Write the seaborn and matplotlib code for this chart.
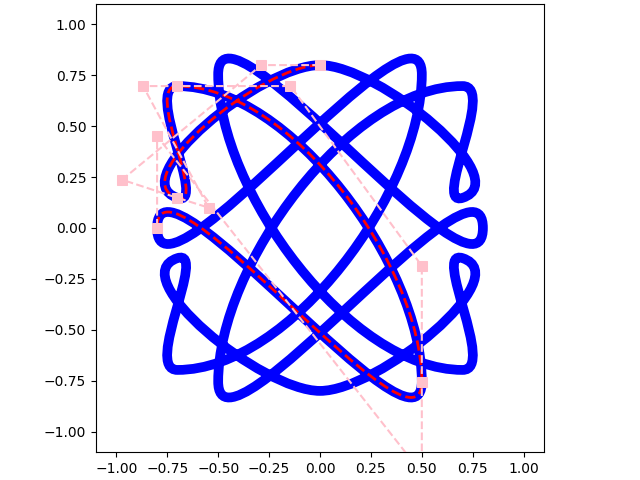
import numpy as np
import matplotlib
matplotlib.use("Agg")
import matplotlib.pyplot as plt
from matplotlib.path import Path
from matplotlib.patches import PathPatch
import seaborn as sns

# Control points of the quarter Bezier path (cubic segments)
ctrl_x = [0.0, -0.288, -0.972, -0.70, -0.547, -0.869, -0.70, -0.145, 0.50, 0.50, 0.50, -0.80, -0.80]
ctrl_y = [0.80, 0.80, 0.237, 0.148, 0.10, 0.697, 0.697, 0.697, -0.186, -0.754, -1.204, 0.451, 0.0]

tick_vals = [-1.0, -0.75, -0.5, -0.25, 0.0, 0.25, 0.5, 0.75, 1.0]

rx = np.array(ctrl_x)
ry = np.array(ctrl_y)

# Full curve: the quarter path and its mirror images
parts = [
    (rx, ry),
    (rx[::-1], -ry[::-1]),
    (-rx, -ry),
    (-rx[::-1], ry[::-1]),
]
full_x = [rx[0]]
full_y = [ry[0]]
for px, py in parts:
    full_x.extend(px[1:])
    full_y.extend(py[1:])
full_verts = np.column_stack([full_x, full_y])
full_codes = [Path.MOVETO] + [Path.CURVE4] * (len(full_verts) - 1)

quarter_verts = np.column_stack([rx, ry])
quarter_codes = [Path.MOVETO] + [Path.CURVE4] * (len(quarter_verts) - 1)

fig = plt.figure(figsize=(6.4, 4.8), dpi=100)
ax = fig.add_axes([96 / 640, 28 / 480, 448 / 640, 448 / 480])

ax.add_patch(PathPatch(Path(full_verts, full_codes), facecolor="none",
                       edgecolor="#0000ff", lw=7, zorder=1))
ax.add_patch(PathPatch(Path(quarter_verts, quarter_codes), facecolor="none",
                       edgecolor="#ff0000", lw=2, linestyle="--", zorder=2))

sns.lineplot(x=rx, y=ry, sort=False, estimator=None, ax=ax, color="pink",
             linestyle="--", lw=1.5, marker="s", markersize=7,
             markeredgecolor="pink", markerfacecolor="pink", zorder=3)

ax.set_xlim(-1.1, 1.1)
ax.set_ylim(-1.1, 1.1)
ax.set_aspect("equal")
ax.set_xticks(tick_vals)
ax.set_yticks(tick_vals)
ax.set_xlabel("")
ax.set_ylabel("")

fig.savefig("out.png", dpi=100)
